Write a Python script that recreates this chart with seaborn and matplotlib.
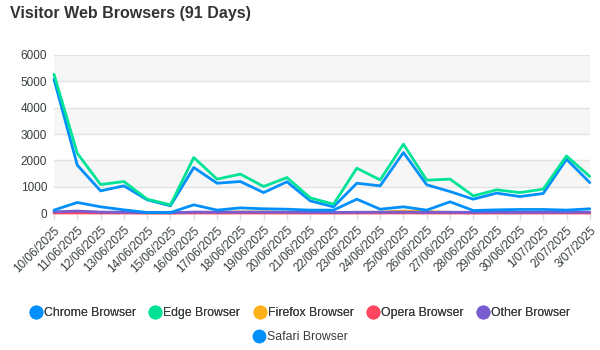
import pandas as pd
import seaborn as sns
import matplotlib.pyplot as plt
from matplotlib.lines import Line2D

dates = ['10/06/2025', '11/06/2025', '12/06/2025', '13/06/2025', '14/06/2025', '15/06/2025',
         '16/06/2025', '17/06/2025', '18/06/2025', '19/06/2025', '20/06/2025', '21/06/2025',
         '22/06/2025', '23/06/2025', '24/06/2025', '25/06/2025', '26/06/2025', '27/06/2025',
         '28/06/2025', '29/06/2025', '30/06/2025', '1/07/2025', '2/07/2025', '3/07/2025']

chrome = [5075, 1820, 845, 1035, 505, 280, 1730, 1135, 1200, 780, 1190, 465,
          240, 1135, 1035, 2300, 1075, 820, 530, 760, 630, 745, 2045, 1160]
edge = [5265, 2270, 1085, 1200, 530, 315, 2110, 1290, 1480, 1010, 1350, 580,
        340, 1705, 1260, 2615, 1250, 1290, 655, 885, 780, 910, 2170, 1390]
firefox = [20, 40, 30, 25, 10, 10, 30, 35, 45, 40, 35, 20,
           15, 25, 40, 80, 60, 30, 15, 20, 20, 20, 20, 25]
opera = [5, 8, 5, 5, 3, 3, 6, 5, 6, 5, 5, 4,
         3, 5, 5, 8, 5, 5, 4, 5, 5, 5, 6, 5]
other = [50, 80, 40, 35, 20, 15, 40, 35, 40, 40, 35, 30,
         25, 35, 35, 40, 30, 35, 30, 30, 30, 30, 35, 40]
safari = [115, 405, 240, 125, 25, 25, 315, 115, 200, 165, 150, 115,
          115, 530, 150, 240, 115, 430, 100, 125, 140, 140, 115, 165]

names = ['Chrome Browser', 'Edge Browser', 'Firefox Browser', 'Opera Browser', 'Other Browser', 'Safari Browser']
colors = ['#008FFB', '#00E396', '#FEB019', '#FF4560', '#775DD0', '#008FFB']

rows = []
for name, vals in zip(names, [chrome, edge, firefox, opera, other, safari]):
    for i, v in enumerate(vals):
        rows.append({'day': i, 'browser': name, 'visits': v})
df = pd.DataFrame(rows)

sns.set_theme(style='white')
plt.rcParams['font.family'] = ['Liberation Sans', 'DejaVu Sans']

fig = plt.figure(figsize=(6, 3.5), dpi=100)
ax = fig.add_axes([0.09, 0.391, 0.893, 0.452])

# alternating grey bands like the original
for lo in [1000, 3000, 5000]:
    ax.axhspan(lo, lo + 1000, color='#f6f6f6', zorder=0, lw=0)

sns.lineplot(data=df, x='day', y='visits', hue='browser', palette=colors, hue_order=names,
             linewidth=2, ax=ax, legend=False, zorder=3)
for line in ax.lines:
    line.set_clip_on(False)

ax.set_xlim(0, len(dates) - 1)
ax.set_ylim(0, 6000)
ax.set_yticks(range(0, 6001, 1000))
ax.yaxis.grid(True, color='#e3e3e3', lw=1)
ax.set_axisbelow(True)
ax.set_xticks(range(len(dates)))
ax.set_xticklabels(dates, rotation=45, ha='right', rotation_mode='anchor', fontsize=8.5, color='#373d3f')
ax.tick_params(axis='x', length=5, color='#e0e0e0', width=1, pad=3, bottom=True)
ax.tick_params(axis='y', length=0, labelsize=8.5, labelcolor='#373d3f', pad=5)
ax.set_xlabel('')
ax.set_ylabel('')
for s in ax.spines.values():
    s.set_visible(False)

fig.text(0.017, 0.962, 'Visitor Web Browsers (91 Days)', fontsize=11.5, fontweight='bold',
         color='#333333', va='center')

handles = [Line2D([], [], marker='o', ls='', markersize=9, color=c) for c in colors]
leg1 = fig.legend(handles[:5], names[:5], loc='center', bbox_to_anchor=(0.5, 0.106), ncol=5,
                  frameon=False, fontsize=8.8, handletextpad=0.15, columnspacing=1.1,
                  labelcolor='#373d3f', handlelength=1)
fig.add_artist(leg1)
fig.legend(handles[5:], names[5:], loc='center', bbox_to_anchor=(0.5, 0.037), ncol=1,
           frameon=False, fontsize=8.8, handletextpad=0.15, labelcolor='#373d3f', handlelength=1)

fig.savefig('out.png', dpi=100)
